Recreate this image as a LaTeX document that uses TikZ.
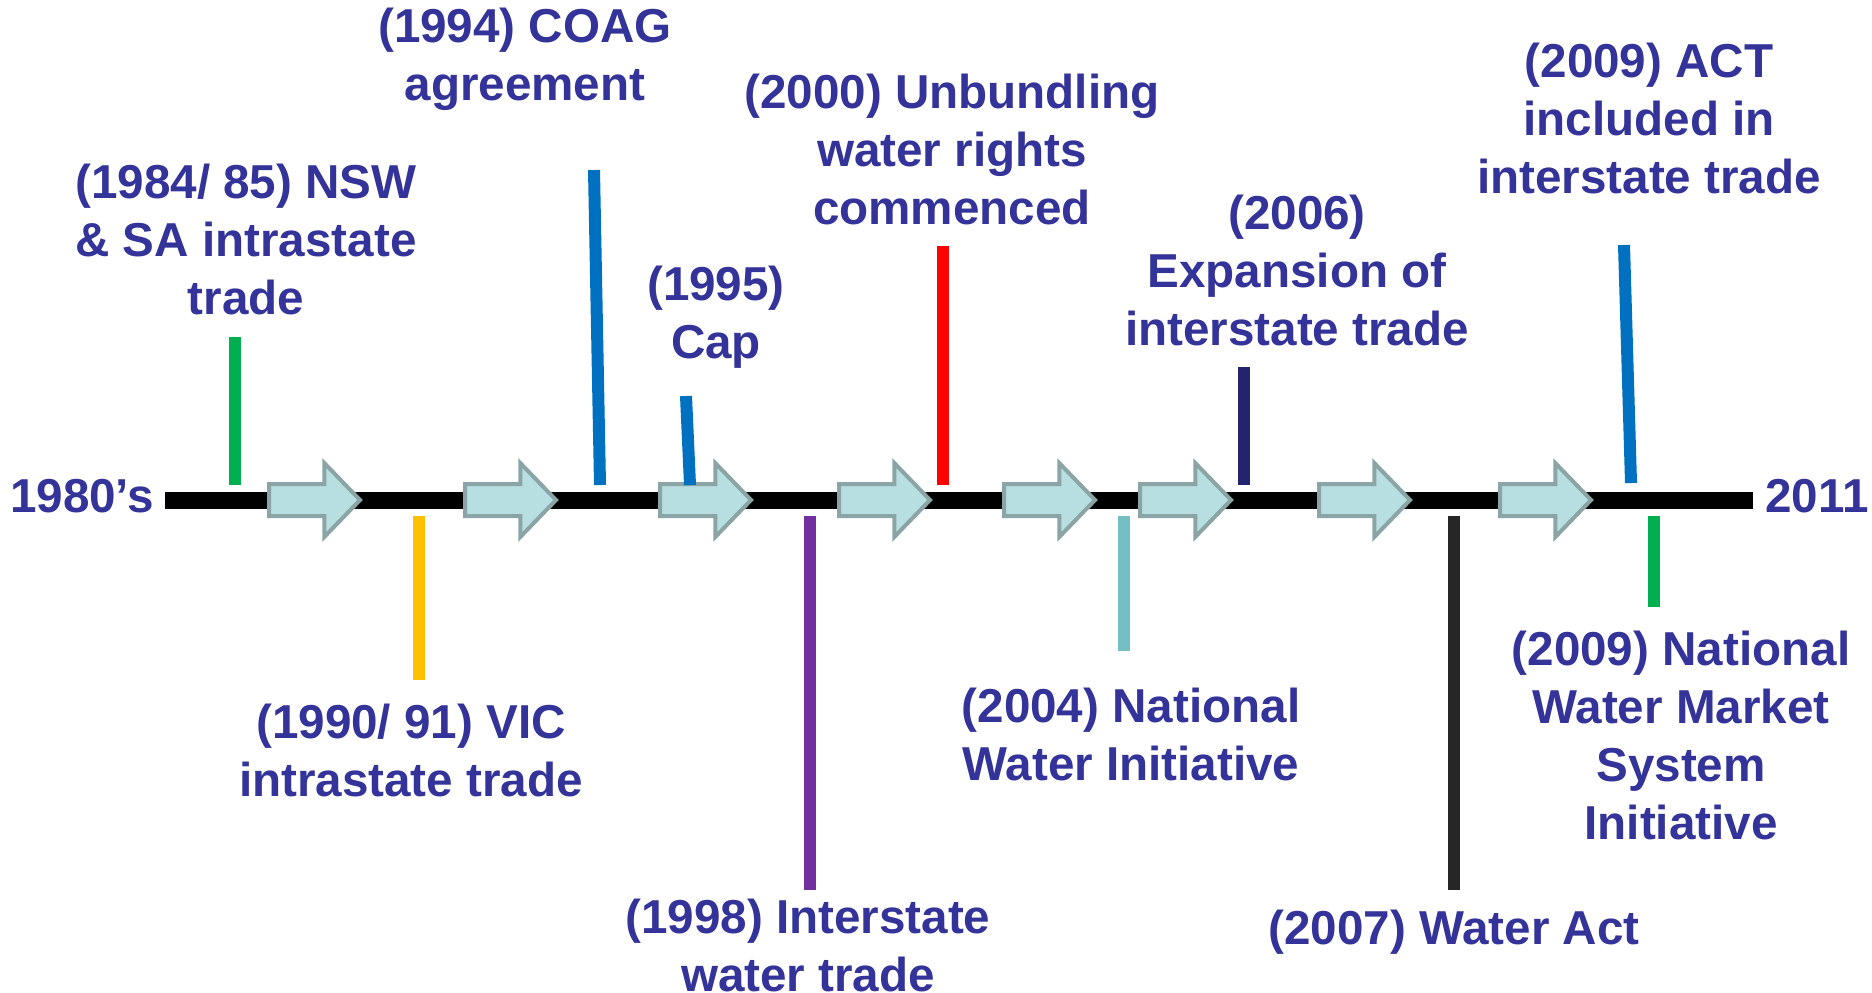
\documentclass[tikz,border=0pt]{standalone}
\usepackage{fontspec}
\setmainfont{Liberation Sans}
\usetikzlibrary{shapes.arrows}
\definecolor{labelblue}{HTML}{333399}
\definecolor{arrowfill}{HTML}{B7DEE1}
\definecolor{arrowedge}{HTML}{8BA4A5}
\definecolor{tickgreen}{HTML}{00B050}
\definecolor{tickyellow}{HTML}{FFC000}
\definecolor{tickblue}{HTML}{0070C0}
\definecolor{tickpurple}{HTML}{7030A0}
\definecolor{tickred}{HTML}{FF0000}
\definecolor{ticklight}{HTML}{74BFC4}
\definecolor{ticknavy}{HTML}{24246E}
\definecolor{tickdark}{HTML}{262626}
\begin{document}
\begin{tikzpicture}[x=0.5pt, y=-0.5pt,
    event/.style={font=\fontsize{23.8}{29}\selectfont\bfseries, text=labelblue,
      align=center, inner sep=0pt},
    stepper/.style={single arrow, draw=arrowedge, fill=arrowfill, line width=2pt,
      inner xsep=0pt, inner ysep=7pt, single arrow head extend=10.5pt,
      single arrow tip angle=92, minimum height=45.5pt, anchor=tail},
    tick/.style={line width=6pt}]
  \useasboundingbox (0,0) rectangle (1872,992);
  % time line and its two ends
  \node[event] (past) at (82,496) {1980’s};
  \node[event] (now) at (1817,496) {2011};
  \coordinate (start) at (165,500);
  \coordinate (end) at (1753,500);
  \draw[line width=8.5pt] (start) -- (end);
  % arrows along the line
  \foreach \x [count=\i] in {267,463,658,837,1002,1138,1317,1498}
    \node[stepper] (step\i) at (\x,500) {};
  % marks above the line
  \draw[tick, tickgreen] (235,337) -- (235,485);
  \draw[tick, tickblue] (594,170) -- (600,485);
  \draw[tick, tickblue] (686,396) -- (690,485);
  \draw[tick, tickred] (943,246) -- (943,485);
  \draw[tick, ticknavy] (1244,367) -- (1244,485);
  \draw[tick, tickblue] (1624,245) -- (1631,483);
  % marks below the line
  \draw[tick, tickyellow] (419,516) -- (419,680);
  \draw[tick, tickpurple] (810,516) -- (810,890);
  \draw[tick, ticklight] (1124,516) -- (1124,651);
  \draw[tick, tickdark] (1454,516) -- (1454,890);
  \draw[tick, tickgreen] (1654,516) -- (1654,607);
  % events above
  \node[event] (nswsa) at (246,239) {(1984/ 85) NSW\\\& SA intrastate\\trade};
  \node[event] (coag) at (525,59) {(1994) COAG\\agreement};
  \node[event] (cap) at (716,317) {(1995)\\Cap};
  \node[event] (unbundle) at (952,149) {(2000) Unbundling\\water rights\\commenced};
  \node[event] (expand) at (1297,270) {(2006)\\Expansion of\\interstate trade};
  \node[event] (act) at (1649,118) {(2009) ACT\\included in\\interstate trade};
  % events below
  \node[event] (vic) at (411,750) {(1990/ 91) VIC\\intrastate trade};
  \node[event] (inter) at (808,945) {(1998) Interstate\\water trade};
  \node[event] (nwi) at (1131,734) {(2004) National\\Water Initiative};
  \node[event] (wateract) at (1454,932) {(2007) Water Act};
  \node[event] (nwms) at (1681,735) {(2009) National\\Water Market\\System\\Initiative};
\end{tikzpicture}
\end{document}
